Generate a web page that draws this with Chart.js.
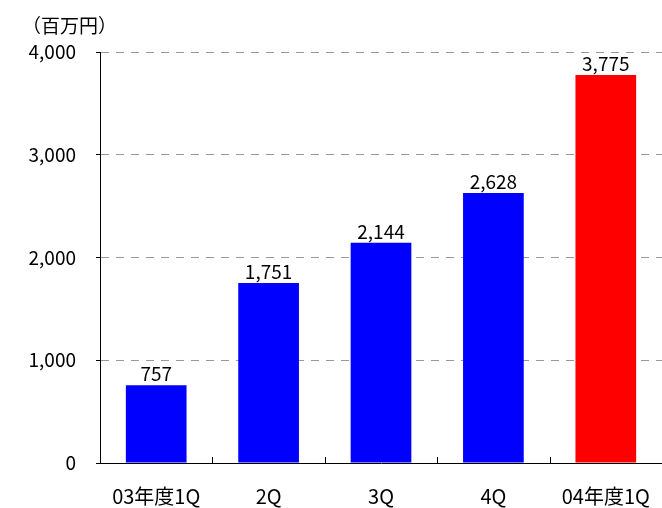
<!DOCTYPE html>
<html>
<head>
<meta charset="utf-8">
<script src="https://cdn.jsdelivr.net/npm/chart.js@4.4.0/dist/chart.umd.min.js"></script>
<style>
  html, body { margin: 0; padding: 0; background: #fff; }
  #wrap { width: 662px; height: 508px; position: relative; }
</style>
</head>
<body>
<div id="wrap"><canvas id="chart"></canvas></div>
<script>
const categories = ['03年度1Q', '2Q', '3Q', '4Q', '04年度1Q'];
const sales = [757, 1751, 2144, 2628, 3775];
const barColors = ['#0000ff', '#0000ff', '#0000ff', '#0000ff', '#ff0000'];
const yTicks = [0, 1000, 2000, 3000, 4000];
const unitLabel = '（百万円）';

const FONT = '"Noto Sans CJK JP", "Noto Sans", sans-serif';

const fmt = v => v.toLocaleString('en-US');

// value labels above bars, unit label, and small inside ticks on x axis
const extras = {
  id: 'extras',
  afterDatasetsDraw(chart) {
    const ctx = chart.ctx;
    const meta = chart.getDatasetMeta(0);
    ctx.save();
    ctx.fillStyle = '#000';
    ctx.font = '19px ' + FONT;
    ctx.textAlign = 'center';
    ctx.textBaseline = 'alphabetic';
    meta.data.forEach((bar, i) => {
      ctx.fillText(fmt(sales[i]), bar.x, bar.y - 4);
    });

    ctx.font = '19px ' + FONT;
    ctx.textAlign = 'left';
    ctx.textBaseline = 'middle';
    ctx.fillText(unitLabel, 22, 26);

    const x = chart.scales.x;
    const bottom = chart.chartArea.bottom;
    ctx.strokeStyle = '#000';
    ctx.lineWidth = 1;
    for (let i = 0; i < categories.length - 1; i++) {
      const px = Math.round((x.getPixelForValue(i) + x.getPixelForValue(i + 1)) / 2) + 0.5;
      ctx.beginPath();
      ctx.moveTo(px, bottom);
      ctx.lineTo(px, bottom - 6);
      ctx.stroke();
    }
    ctx.restore();
  }
};

new Chart(document.getElementById('chart'), {
  type: 'bar',
  data: {
    labels: categories,
    datasets: [{
      data: sales,
      backgroundColor: barColors,
      categoryPercentage: 1,
      barPercentage: 0.54
    }]
  },
  options: {
    responsive: true,
    maintainAspectRatio: false,
    animation: false,
    layout: { padding: { top: 52, right: 0, left: 0, bottom: 0 } },
    plugins: {
      legend: { display: false },
      tooltip: { enabled: false }
    },
    scales: {
      x: {
        grid: { display: false },
        border: { color: '#000', width: 1 },
        ticks: { color: '#000', font: { family: FONT, size: 20 }, padding: 13, maxRotation: 0 },
        afterFit(scale) {
          scale.height = 45;
          scale.paddingLeft = 0;
          scale.paddingRight = 0;
        }
      },
      y: {
        min: 0,
        max: 4000,
        afterBuildTicks(scale) { scale.ticks = yTicks.map(v => ({ value: v })); },
        grid: {
          color: ctx => ctx.tick && ctx.tick.value === 0 ? 'rgba(0,0,0,0)' : '#999999',
          tickLength: 4,
          tickColor: '#000',
          tickBorderDash: []
        },
        border: { color: '#000', width: 1, dash: [8, 7] },
        ticks: {
          color: '#000',
          font: { family: FONT, size: 19 },
          padding: 20,
          callback: v => fmt(v)
        },
        afterFit(scale) { scale.width = 100; }
      }
    }
  },
  plugins: [extras]
});
</script>
</body>
</html>
